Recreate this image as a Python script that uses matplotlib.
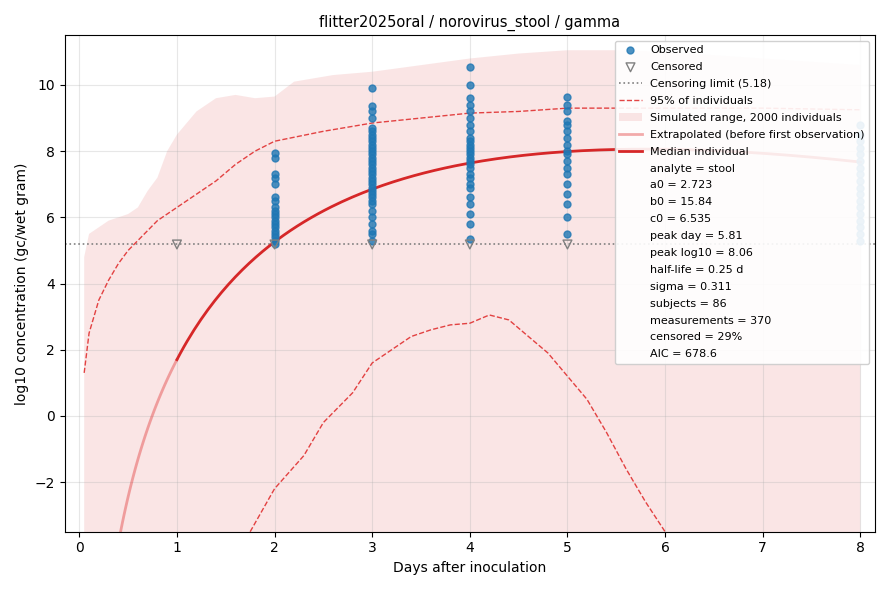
import numpy as np
import matplotlib.pyplot as plt

OUTPUT_GRAPH_FILE = "out.png"
LOD = 5.18


def main():
    # observed log10 values per day
    obs = {
        2: [5.2, 5.3, 5.4, 5.5, 5.6, 5.7, 5.8, 5.9, 6.0, 6.1, 6.2, 6.3, 6.5, 6.6, 7.0, 7.2, 7.3, 7.8, 7.95],
        3: [5.3, 5.5, 5.6, 5.8, 6.0, 6.2, 6.4, 6.5, 6.6, 6.7, 6.8, 6.9, 7.0, 7.1, 7.2, 7.3, 7.4, 7.5,
            7.6, 7.7, 7.8, 7.9, 8.0, 8.1, 8.2, 8.3, 8.4, 8.5, 8.6, 8.7, 9.0, 9.2, 9.35, 9.9],
        4: [5.35, 5.8, 6.1, 6.4, 6.6, 6.9, 7.0, 7.2, 7.3, 7.5, 7.6, 7.7, 7.8, 7.9, 8.0, 8.1, 8.2,
            8.3, 8.4, 8.6, 8.8, 9.0, 9.2, 9.4, 9.6, 10.0, 10.55],
        5: [5.5, 6.0, 6.4, 6.7, 7.0, 7.3, 7.5, 7.7, 7.9, 8.0, 8.2, 8.4, 8.6, 8.8, 8.9, 9.2, 9.4, 9.65],
        8: [5.3, 5.5, 5.7, 5.9, 6.1, 6.3, 6.5, 6.7, 6.9, 7.1, 7.3, 7.5, 7.7, 7.9, 8.1, 8.3, 8.5, 8.8],
    }
    cens_days = [1, 2, 3, 4, 5]

    # simulated envelope (upper edge)
    env_t = [0.05, 0.1, 0.3, 0.5, 0.6, 0.7, 0.8, 0.9, 1.0, 1.2, 1.4, 1.6, 1.8, 2.0, 2.2, 2.6, 3.0,
             3.5, 4.0, 4.5, 5.0, 5.5, 6.0, 6.5, 7.0, 7.5, 8.0]
    env_hi = [4.8, 5.5, 5.9, 6.1, 6.3, 6.8, 7.2, 8.0, 8.5, 9.2, 9.6, 9.7, 9.6, 9.65, 10.1, 10.3, 10.4,
              10.6, 10.8, 10.95, 11.05, 11.05, 11.0, 10.9, 10.8, 10.7, 10.6]

    # 95% of individuals
    up_t = [0.05, 0.1, 0.2, 0.3, 0.4, 0.5, 0.6, 0.7, 0.8, 1.0, 1.2, 1.4, 1.6, 1.8, 2.0, 2.5, 3.0,
            3.5, 4.0, 4.5, 5.0, 5.5, 6.0, 7.0, 8.0]
    up_y = [1.3, 2.5, 3.5, 4.1, 4.6, 5.0, 5.3, 5.6, 5.9, 6.3, 6.7, 7.1, 7.6, 8.0, 8.3, 8.6, 8.85,
            9.0, 9.15, 9.2, 9.3, 9.3, 9.3, 9.3, 9.25]
    lo_t = [1.75, 2.0, 2.3, 2.5, 2.8, 3.0, 3.2, 3.4, 3.6, 3.8, 4.0, 4.2, 4.4, 4.6, 4.8, 5.0, 5.2,
            5.4, 5.6, 5.8, 6.0]
    lo_y = [-3.5, -2.2, -1.2, -0.2, 0.7, 1.6, 2.0, 2.4, 2.6, 2.75, 2.8, 3.05, 2.9, 2.4, 1.9, 1.2,
            0.5, -0.5, -1.6, -2.6, -3.5]

    # median individual, gamma shape in log space
    c0, p, q = 2.876, 6.83, 1.176
    t_ext = np.linspace(0.3, 1.0, 50)
    t_med = np.linspace(1.0, 8.0, 200)
    f = lambda t: c0 + p * np.log(t) - q * t

    fig, ax = plt.subplots(figsize=(8.9, 5.9))
    ax.fill_between(env_t, -10, env_hi, color="#f4c7c7", alpha=0.45, lw=0,
                    label="Simulated range, 2000 individuals")
    for d, ys in obs.items():
        ax.scatter([d] * len(ys), ys, s=25, color="#1f77b4", alpha=0.8, zorder=3,
                   label="Observed" if d == 2 else None)
    ax.scatter(cens_days, [LOD] * len(cens_days), marker="v", s=40, facecolors="none",
               edgecolors="gray", zorder=4, label="Censored")
    ax.axhline(LOD, color="gray", ls=":", lw=1.2, label=f"Censoring limit ({LOD})")
    ax.plot(up_t, up_y, color="#e03030", ls="--", lw=1, alpha=0.9, label="95% of individuals")
    ax.plot(lo_t, lo_y, color="#e03030", ls="--", lw=1, alpha=0.9)
    ax.plot(t_ext, f(t_ext), color="#e03030", lw=2, alpha=0.4, label="Extrapolated (before first observation)")
    ax.plot(t_med, f(t_med), color="#d62728", lw=2, label="Median individual")

    info = ["analyte = stool", "a0 = 2.723", "b0 = 15.84", "c0 = 6.535", "peak day = 5.81",
            "peak log10 = 8.06", "half-life = 0.25 d", "sigma = 0.311", "subjects = 86",
            "measurements = 370", "censored = 29%", "AIC = 678.6"]
    for s in info:
        ax.plot([], [], " ", label=s)

    order = ["Observed", "Censored", f"Censoring limit ({LOD})", "95% of individuals",
             "Simulated range, 2000 individuals", "Extrapolated (before first observation)",
             "Median individual"] + info
    h, l = ax.get_legend_handles_labels()
    d = dict(zip(l, h))
    ax.legend([d[k] for k in order], order, loc="upper right", fontsize=8, framealpha=0.9,
              labelspacing=0.62)

    ax.set_xlim(-0.15, 8.15)
    ax.set_ylim(-3.5, 11.5)
    ax.grid(alpha=0.3)
    ax.set_title("flitter2025oral / norovirus_stool / gamma", fontsize=10.5)
    ax.set_xlabel("Days after inoculation")
    ax.set_ylabel("log10 concentration (gc/wet gram)")
    plt.tight_layout()
    plt.savefig(OUTPUT_GRAPH_FILE, dpi=100)
    plt.close(fig)


if __name__ == "__main__":
    main()
